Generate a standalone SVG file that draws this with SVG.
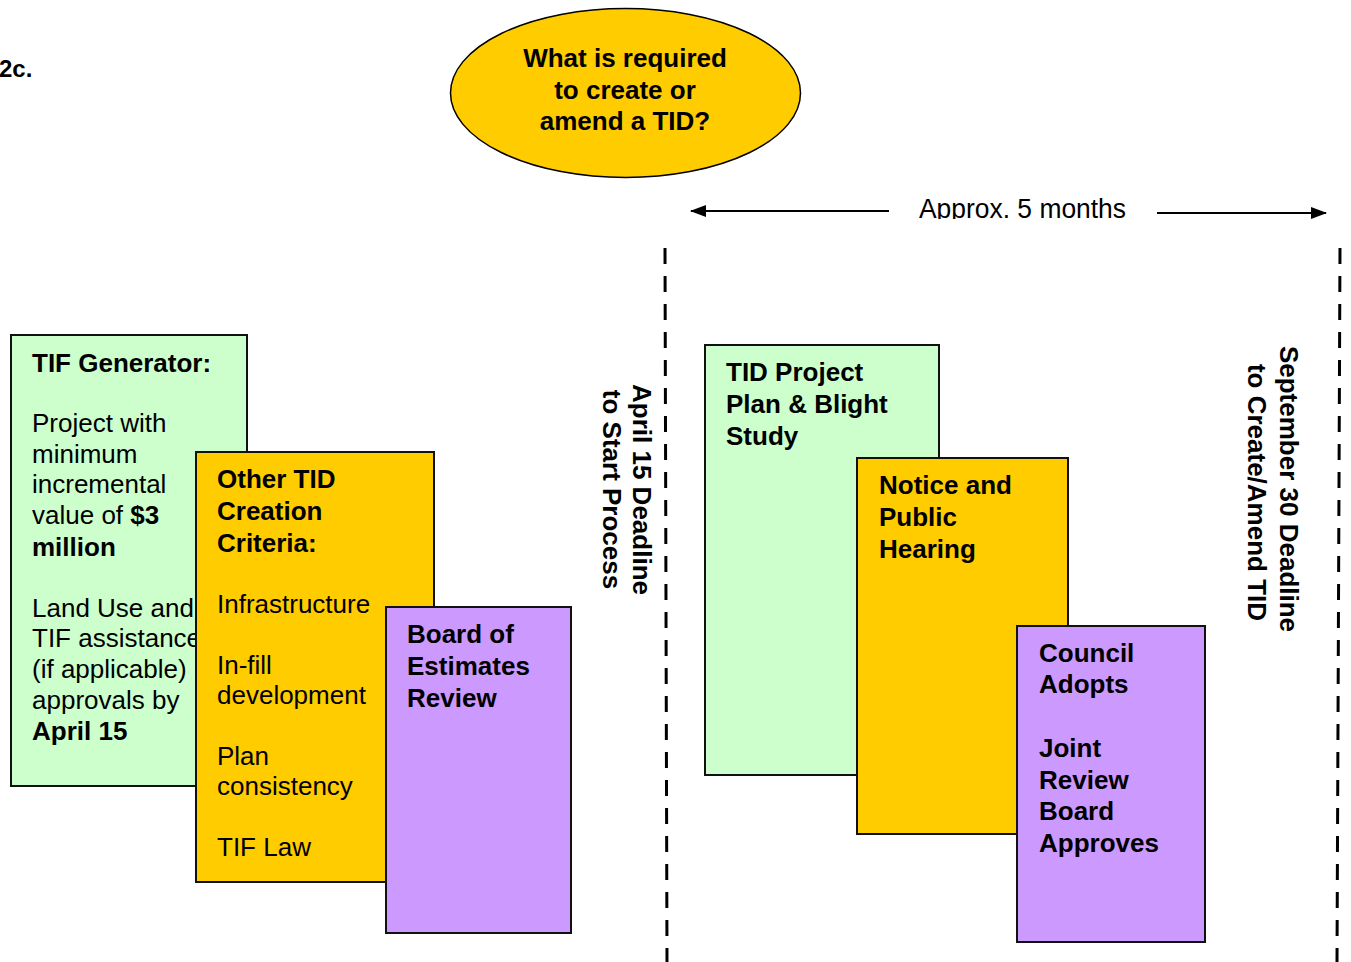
<svg xmlns="http://www.w3.org/2000/svg" width="1351" height="962" viewBox="0 0 1351 962">
<style>
text{font-family:"Liberation Sans",Arial,sans-serif;font-size:26px;fill:#000}
.b{font-weight:bold}
.box{stroke:#111;stroke-width:2}
.g{fill:#CCFFCC}
.o{fill:#FFCC00}
.p{fill:#CC99FF}
.dash{stroke:#000;stroke-width:3;stroke-dasharray:16 12;fill:none}
.arr{stroke:#000;stroke-width:2;fill:none}
</style>
<defs>
<marker id="ah" viewBox="0 0 16 12" refX="15" refY="6" markerWidth="16" markerHeight="12" markerUnits="userSpaceOnUse" orient="auto">
<path d="M0,0 L16,6 L0,12 Z" fill="#000"/>
</marker>
<clipPath id="clipApprox"><rect x="900" y="180" width="250" height="39"/></clipPath>
</defs>
<rect width="1351" height="962" fill="#fff"/>

<g id="figure-label"><text class="b" x="-1" y="77" style="font-size:24px">2c.</text></g>

<g id="title">
<ellipse cx="625.5" cy="93" rx="175" ry="84.5" fill="#FFCC00" stroke="#000" stroke-width="1.5"/>
<text class="b" text-anchor="middle"><tspan x="625" y="67">What is required</tspan><tspan x="625" y="99">to create or</tspan><tspan x="625" y="130">amend a TID?</tspan></text>
</g>

<g id="connectors">
<line class="arr" x1="889" y1="211" x2="691" y2="211" marker-end="url(#ah)"/>
<line class="arr" x1="1157" y1="213" x2="1326" y2="213" marker-end="url(#ah)"/>
<line class="dash" x1="665" y1="248" x2="667" y2="962"/>
<line class="dash" x1="1340" y1="248" x2="1337" y2="962"/>
</g>

<g id="duration-label" clip-path="url(#clipApprox)">
<text x="919" y="218" style="font-size:27px" textLength="207" lengthAdjust="spacingAndGlyphs">Approx. 5 months</text>
</g>

<g id="tif-generator">
<rect class="box g" x="11" y="335" width="236" height="451"/>
<text x="32"><tspan class="b" x="32" y="372">TIF Generator:</tspan><tspan x="32" y="432">Project with</tspan><tspan x="32" y="463">minimum</tspan><tspan x="32" y="493">incremental</tspan><tspan x="32" y="524">value of <tspan class="b">$3</tspan></tspan><tspan class="b" x="32" y="556">million</tspan><tspan x="32" y="617">Land Use and</tspan><tspan x="32" y="647">TIF assistance</tspan><tspan x="32" y="678">(if applicable)</tspan><tspan x="32" y="709">approvals by</tspan><tspan class="b" x="32" y="740">April 15</tspan></text>
</g>

<g id="other-criteria">
<rect class="box o" x="196" y="452" width="238" height="430"/>
<text><tspan class="b" x="217" y="488">Other TID</tspan><tspan class="b" x="217" y="520">Creation</tspan><tspan class="b" x="217" y="552">Criteria:</tspan><tspan x="217" y="613">Infrastructure</tspan><tspan x="217" y="674">In-fill</tspan><tspan x="217" y="704">development</tspan><tspan x="217" y="765">Plan</tspan><tspan x="217" y="795">consistency</tspan><tspan x="217" y="856">TIF Law</tspan></text>
</g>

<g id="board-estimates">
<rect class="box p" x="386" y="607" width="185" height="326"/>
<text class="b"><tspan x="407" y="643">Board of</tspan><tspan x="407" y="675">Estimates</tspan><tspan x="407" y="707">Review</tspan></text>
</g>

<g id="april-deadline">
<text class="b" text-anchor="middle" transform="translate(633,489.5) rotate(90)">April 15 Deadline</text>
<text class="b" text-anchor="middle" transform="translate(603,489.5) rotate(90)">to Start Process</text>
</g>

<g id="project-plan">
<rect class="box g" x="705" y="345" width="234" height="430"/>
<text class="b"><tspan x="726" y="381">TID Project</tspan><tspan x="726" y="413">Plan &amp; Blight</tspan><tspan x="726" y="445">Study</tspan></text>
</g>

<g id="public-hearing">
<rect class="box o" x="857" y="458" width="211" height="376"/>
<text class="b"><tspan x="879" y="494">Notice and</tspan><tspan x="879" y="526">Public</tspan><tspan x="879" y="558">Hearing</tspan></text>
</g>

<g id="council-adopts">
<rect class="box p" x="1017" y="626" width="188" height="316"/>
<text class="b"><tspan x="1039" y="662">Council</tspan><tspan x="1039" y="693">Adopts</tspan><tspan x="1039" y="757">Joint</tspan><tspan x="1039" y="789">Review</tspan><tspan x="1039" y="820">Board</tspan><tspan x="1039" y="852">Approves</tspan></text>
</g>

<g id="september-deadline">
<text class="b" text-anchor="middle" transform="translate(1280,489) rotate(90)">September 30 Deadline</text>
<text class="b" text-anchor="middle" transform="translate(1248,492.5) rotate(90)">to Create/Amend TID</text>
</g>
</svg>
